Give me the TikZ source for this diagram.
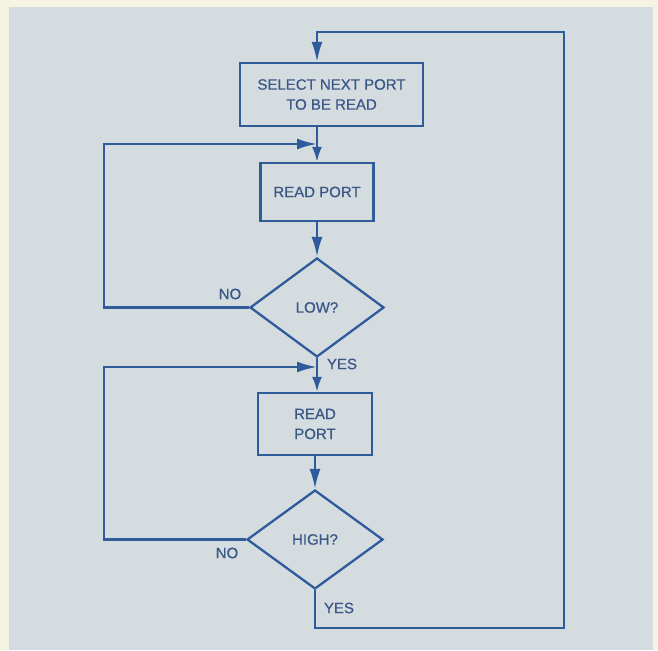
\documentclass[tikz,border=0pt]{standalone}
\usepackage{fontspec}
\setmainfont{Liberation Sans}
\newfontfamily\chartfont{Liberation Sans}[FakeBold=0.6]
\usetikzlibrary{arrows.meta}
\usetikzlibrary{shapes.geometric}
\usetikzlibrary{positioning}
\definecolor{paper}{HTML}{F7F3E2}
\definecolor{panel}{HTML}{D4DCE0}
\definecolor{ink}{HTML}{2F5B9B}
\definecolor{inktext}{HTML}{3A5786}
\tikzset{
box/.style = {draw=ink, line width=2.3pt, rectangle, inner sep=0pt,
              align=center, text=inktext, font=\chartfont\fontsize{15}{20}\selectfont},
test/.style = {draw=ink, line width=2.3pt, diamond, inner sep=0pt,
               text=inktext, font=\chartfont\fontsize{15}{20}\selectfont},
lbl/.style = {text=inktext, inner sep=0pt, font=\chartfont\fontsize{15}{18}\selectfont},
line/.style = {draw=ink, line width=2.3pt},
flow/.style = {line, -{Latex[length=20pt, width=11pt]}},
step in/.style = {line, -{Latex[length=15pt, width=10pt]}}
}
\begin{document}
\begin{tikzpicture}[x=1pt, y=-1pt]
    \useasboundingbox (0,0) rectangle (658,650);
    \fill[paper] (0,0) rectangle (658,650);
    \fill[panel] (9,7) rectangle (653,650);

    % boxes and tests
    \node[box, minimum width=183pt, minimum height=63pt] (sel) at (331.5,94.5) {SELECT NEXT PORT\\TO BE READ};
    \node[box, minimum width=113pt, minimum height=58pt] (rdA) at (317,192) {READ PORT};
    \node[test, minimum width=134pt, minimum height=99pt] (low) at (317,307.5) {LOW?};
    \node[box, minimum width=114pt, minimum height=62pt] (rdB) at (315,424) {READ\\PORT};
    \node[test, minimum width=136pt, minimum height=99pt] (high) at (315,539.5) {HIGH?};

    % turning points
    \coordinate (j1) at (317,144);
    \coordinate (j2) at (317,367);
    \coordinate (edgeL) at (104,0);
    \coordinate (retB) at (564,628);
    \coordinate (retT) at (564,32);

    % labels
    \node[lbl] (noA) at (230,294) {NO};
    \node[lbl] (yesA) at (342,364) {YES};
    \node[lbl] (noB) at (227,553) {NO};
    \node[lbl] (yesB) at (339,608) {YES};

    % connectors
    \draw[step in] (sel.south -| j1) -- (rdA.north);
    \draw[flow] (rdA.south) -- (low.north);
    \draw[flow] (low.west) -- (low.west -| edgeL) |- (j1);
    \draw[line] (low.south) -- (j2);
    \draw[step in] (j2) -- (rdB.north -| j2);
    \draw[flow] (rdB.south) -- (high.north);
    \draw[flow] (high.west) -- (high.west -| edgeL) |- (j2);
    \draw[flow] (high.south) |- (retB) -- (retT) -- (retT -| j1) -- (sel.north -| j1);
\end{tikzpicture}
\end{document}
